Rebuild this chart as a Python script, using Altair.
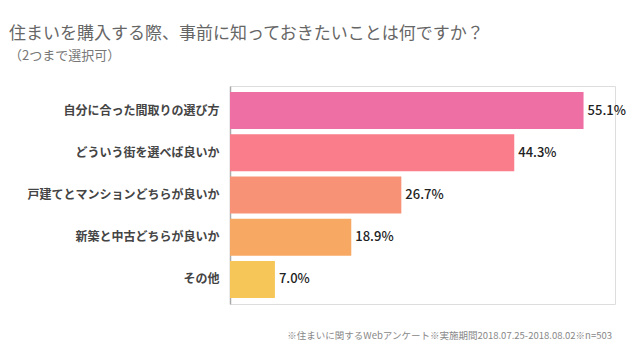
import altair as alt
import pandas as pd

categories = ["自分に合った間取りの選び方", "どういう街を選べば良いか", "戸建てとマンションどちらが良いか", "新築と中古どちらが良いか", "その他"]
values = [55.1, 44.3, 26.7, 18.9, 7.0]
colors = ["#EE6FA3", "#F97D8A", "#F89276", "#F7A862", "#F6C758"]
value_labels = ["55.1%", "44.3%", "26.7%", "18.9%", "7.0%"]

title_text = "住まいを購入する際、事前に知っておきたいことは何ですか？"
subtitle_text = "（2つまで選択可）"
footnote = "※住まいに関するWebアンケート※実施期間2018.07.25-2018.08.02※n=503"

FONT = "Noto Sans CJK JP"

df = pd.DataFrame({"cat": categories, "val": values, "color": colors, "label": value_labels})

y = alt.Y("cat:N", sort=categories, title=None,
          scale=alt.Scale(paddingInner=0.12, paddingOuter=0.14),
          axis=alt.Axis(domain=True, domainColor="#aaaaaa", domainWidth=1.5, ticks=False,
                        grid=False, labelFont=FONT, labelFontSize=12, labelFontWeight="bold",
                        labelColor="#444444", labelPadding=11, labelLimit=300))
x = alt.X("val:Q", title=None, scale=alt.Scale(domain=[0, 60]), axis=None)

bars = alt.Chart(df).mark_bar().encode(
    x=x, y=y, color=alt.Color("color:N", scale=None)
)
texts = alt.Chart(df).mark_text(align="left", dx=4, font=FONT, fontSize=13, fontWeight=500,
                                color="#222222").encode(
    x=x, y=alt.Y("cat:N", sort=categories), text="label:N"
)
foot = alt.Chart(pd.DataFrame({"t": [footnote]})).mark_text(
    align="right", baseline="middle", font=FONT, fontSize=9.5, color="#888888"
).encode(x=alt.value(382), y=alt.value(250), text="t:N")

chart = alt.layer(bars, texts, foot).properties(
    width=385, height=218,
    autosize=alt.AutoSizeParams(type="none"),
    padding={"left": 230, "top": 86, "right": 25, "bottom": 47},
    title=alt.TitleParams(text=title_text, subtitle=subtitle_text, anchor="start", frame="group",
                          dx=-221, offset=22, font=FONT, fontSize=17, fontWeight="normal",
                          color="#666666", subtitleFont=FONT, subtitleFontSize=13,
                          subtitleColor="#777777", subtitlePadding=7)
).configure_view(stroke=None).configure(background="white")

chart.save("out.html", embed_options={"renderer": "svg", "actions": False})
